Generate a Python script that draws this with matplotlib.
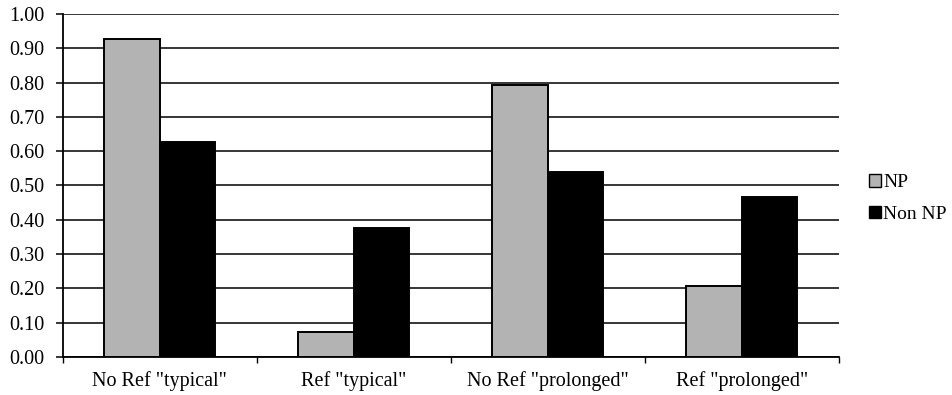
import matplotlib
matplotlib.use("Agg")
import matplotlib.pyplot as plt
import numpy as np
from matplotlib.patches import Patch

categories = ['No Ref "typical"', 'Ref "typical"', 'No Ref "prolonged"', 'Ref "prolonged"']
np_values = [0.927, 0.074, 0.793, 0.208]
non_np_values = [0.627, 0.375, 0.538, 0.466]
series_names = ["NP", "Non NP"]
yticks = [0.0, 0.1, 0.2, 0.3, 0.4, 0.5, 0.6, 0.7, 0.8, 0.9, 1.0]

plt.rcParams['font.family'] = ['Liberation Serif', 'DejaVu Serif']

fig = plt.figure(figsize=(9.52, 3.95), dpi=100)
ax = fig.add_axes([0.066, 0.0962, 0.815, 0.8684])

x = np.arange(len(categories))
w = 1 / 3.5
ax.bar(x - w / 2, np_values, width=w, color='#b3b3b3', edgecolor='black', linewidth=1.4, zorder=3, label=series_names[0])
ax.bar(x + w / 2, non_np_values, width=w, color='black', edgecolor='black', linewidth=1.4, zorder=3, label=series_names[1])

ax.set_xlim(-0.5, len(categories) - 0.5)
ax.set_ylim(0, 1.0)
ax.set_yticks(yticks)
ax.set_yticklabels([f"{v:.2f}" for v in yticks], fontsize=14.5)
ax.yaxis.grid(True, color='black', linewidth=1.1, zorder=0)
ax.set_axisbelow(True)

ax.set_xticks(x)
ax.set_xticklabels(categories, fontsize=14.5)
ax.tick_params(axis='x', which='major', length=0, pad=10)
ax.set_xticks(np.arange(-0.5, len(categories) + 0.5, 1), minor=True)
ax.tick_params(axis='x', which='minor', length=4, width=1, direction='out')
ax.tick_params(axis='y', length=5, width=1.1, direction='out', pad=8)

for s in ['top', 'right']:
    ax.spines[s].set_visible(False)
ax.spines['left'].set_linewidth(1.3)
ax.spines['bottom'].set_linewidth(1.3)

handles = [Patch(facecolor='#b3b3b3', edgecolor='black', linewidth=1.0),
           Patch(facecolor='black', edgecolor='black', linewidth=1.0)]
fig.legend(handles, series_names, loc='center left', bbox_to_anchor=(0.899, 0.497),
           frameon=False, fontsize=14, handlelength=0.6, handleheight=0.6,
           handletextpad=0.1, labelspacing=0.75, borderpad=0.2)

fig.savefig("out.png", dpi=100)
